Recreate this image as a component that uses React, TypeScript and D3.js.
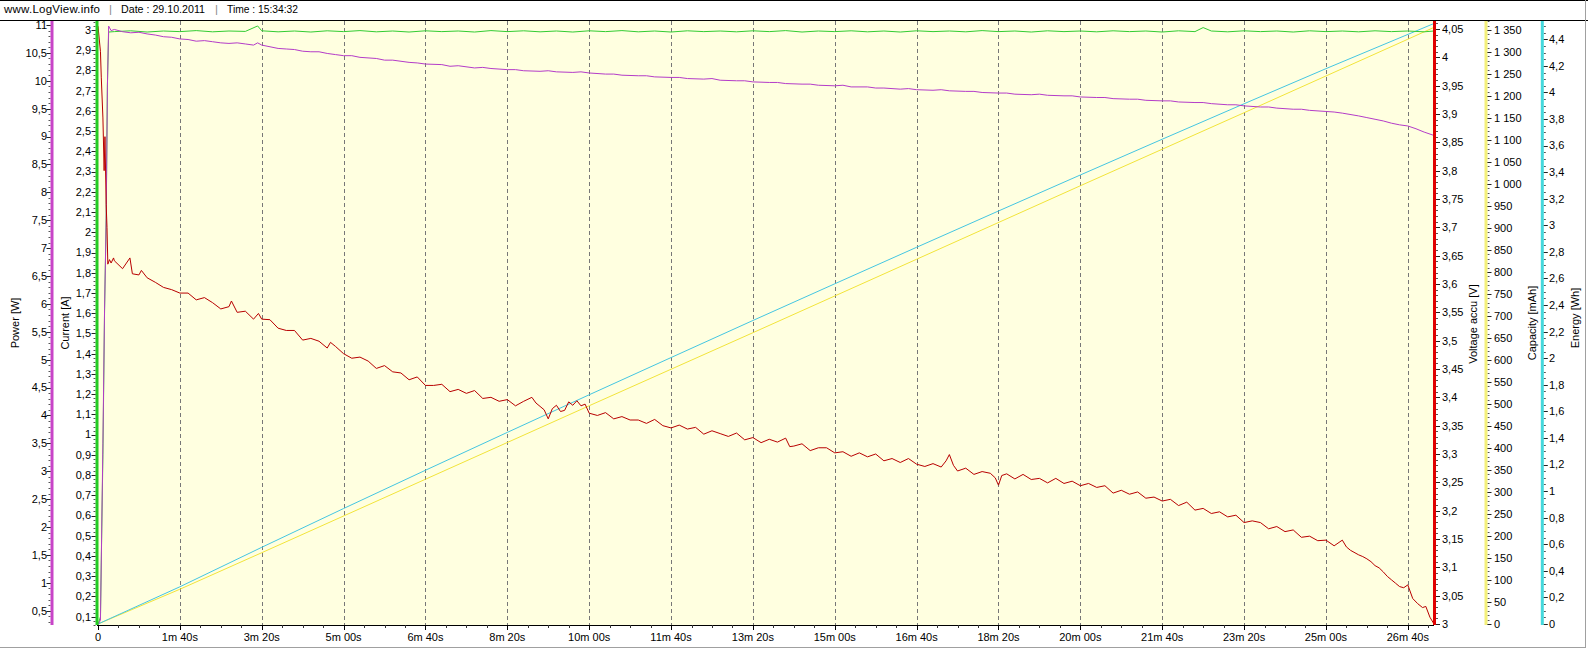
import React from 'react';
import * as d3 from 'd3';

// ---------- data (time in seconds) ----------
const voltageAccu: [number, number][] = [
  [0, 4.055], [3, 4.01], [4, 3.965], [6, 3.893], [7.5, 3.8], [8.5, 3.86], [10, 3.74], [11, 3.7], [12, 3.635], [14, 3.643], [16, 3.637], [19, 3.646],
  [20, 3.641], [30, 3.627], [39, 3.646], [42, 3.618], [50, 3.616], [53, 3.624], [60, 3.611], [70, 3.603], [80, 3.594], [90, 3.59],
  [100, 3.584], [110, 3.584], [120, 3.572], [130, 3.576], [140, 3.567], [150, 3.556], [160, 3.56], [163, 3.57], [170, 3.55], [180, 3.552], [190, 3.538],
  [196, 3.548], [200, 3.538], [210, 3.537], [220, 3.522], [230, 3.518], [240, 3.518], [250, 3.501], [260, 3.504], [270, 3.499], [280, 3.487], [284, 3.497], [290, 3.49],
  [300, 3.477], [310, 3.469], [320, 3.471], [330, 3.464], [340, 3.451], [350, 3.456], [360, 3.445], [370, 3.443], [380, 3.431], [390, 3.436],
  [400, 3.421], [410, 3.421], [420, 3.423], [430, 3.41], [440, 3.414], [450, 3.407], [460, 3.412], [470, 3.398], [480, 3.4], [490, 3.393],
  [500, 3.396], [510, 3.385], [520, 3.393], [530, 3.4], [535, 3.39], [540, 3.384], [545, 3.378], [550, 3.362], [555, 3.38], [560, 3.386], [565, 3.375],
  [570, 3.377], [575, 3.392], [580, 3.386], [585, 3.394], [590, 3.385], [595, 3.388],
  [600, 3.372], [610, 3.368], [620, 3.373], [630, 3.362], [640, 3.366], [650, 3.36], [660, 3.36], [670, 3.354], [680, 3.361], [690, 3.35],
  [700, 3.346], [710, 3.351], [720, 3.344], [730, 3.347], [740, 3.335], [750, 3.341], [760, 3.336], [770, 3.331], [780, 3.337], [790, 3.325],
  [800, 3.329], [810, 3.32], [820, 3.326], [830, 3.321], [840, 3.328], [845, 3.313], [850, 3.314], [860, 3.318], [870, 3.306], [880, 3.311], [890, 3.311],
  [900, 3.302], [910, 3.304], [920, 3.296], [930, 3.302], [940, 3.295], [950, 3.3], [960, 3.288], [970, 3.292], [980, 3.285], [990, 3.292],
  [1000, 3.282], [1010, 3.278], [1020, 3.283], [1030, 3.277], [1036, 3.288], [1040, 3.299], [1045, 3.28], [1050, 3.27], [1060, 3.275], [1070, 3.264],
  [1080, 3.269], [1090, 3.266], [1096, 3.258], [1100, 3.245], [1104, 3.262], [1110, 3.265], [1120, 3.256], [1130, 3.264], [1140, 3.255], [1150, 3.257],
  [1160, 3.249], [1170, 3.257], [1180, 3.248], [1190, 3.252], [1200, 3.244], [1210, 3.248], [1220, 3.241], [1230, 3.244], [1240, 3.231], [1250, 3.236],
  [1260, 3.229], [1270, 3.233], [1280, 3.222], [1290, 3.224], [1300, 3.217], [1310, 3.22], [1320, 3.209], [1330, 3.215], [1340, 3.201], [1350, 3.204],
  [1360, 3.195], [1370, 3.198], [1380, 3.189], [1390, 3.192], [1400, 3.179], [1410, 3.182], [1420, 3.179], [1430, 3.168], [1440, 3.172], [1450, 3.163],
  [1460, 3.166], [1470, 3.153], [1480, 3.155], [1490, 3.147], [1500, 3.148], [1510, 3.138], [1520, 3.148], [1525, 3.136], [1530, 3.13],
  [1540, 3.122], [1545, 3.119], [1550, 3.115], [1555, 3.11], [1560, 3.103], [1565, 3.099], [1570, 3.092], [1575, 3.084], [1580, 3.078], [1585, 3.072],
  [1590, 3.066], [1595, 3.064], [1600, 3.069], [1606, 3.045], [1612, 3.036], [1618, 3.029], [1622, 3.031], [1627, 3.012], [1632, 3.0],
];

const power: [number, number][] = [
  [0, 0.25], [3, 0.33], [6, 3.5], [8, 5.9], [10, 7.5], [11.5, 9.9], [13, 10.98], [16, 10.9],
  [20, 10.92], [30, 10.88], [40, 10.86], [50, 10.87], [60, 10.84], [70, 10.82], [80, 10.79], [90, 10.78], [100, 10.75], [110, 10.74],
  [120, 10.71], [130, 10.72], [140, 10.7], [150, 10.68], [160, 10.67], [170, 10.68], [180, 10.66], [190, 10.64], [195, 10.68], [200, 10.64],
  [220, 10.58], [230, 10.57], [240, 10.56], [250, 10.53], [260, 10.52], [270, 10.52], [280, 10.49], [290, 10.47], [300, 10.45], [310, 10.45],
  [320, 10.42], [340, 10.4], [350, 10.37], [360, 10.37], [380, 10.33], [390, 10.32], [400, 10.3], [420, 10.29], [430, 10.26], [440, 10.27],
  [460, 10.23], [470, 10.24], [480, 10.22], [500, 10.2], [510, 10.2], [520, 10.18], [540, 10.17], [550, 10.18], [560, 10.16], [580, 10.15],
  [590, 10.16], [600, 10.14], [620, 10.12], [630, 10.12], [640, 10.1], [660, 10.09], [670, 10.09], [680, 10.07], [700, 10.06], [710, 10.06],
  [720, 10.04], [740, 10.03], [750, 10.04], [760, 10.01], [780, 10.0], [790, 10.0], [800, 9.98], [820, 9.97], [830, 9.97], [840, 9.95],
  [860, 9.94], [870, 9.94], [880, 9.92], [900, 9.91], [910, 9.92], [920, 9.89], [940, 9.89], [950, 9.87], [960, 9.87], [980, 9.85],
  [990, 9.86], [1000, 9.84], [1020, 9.83], [1030, 9.84], [1040, 9.82], [1060, 9.81], [1070, 9.81], [1080, 9.79], [1100, 9.78], [1110, 9.78],
  [1120, 9.76], [1140, 9.75], [1150, 9.76], [1160, 9.74], [1180, 9.73], [1190, 9.73], [1200, 9.71], [1220, 9.7], [1230, 9.7], [1240, 9.68],
  [1260, 9.67], [1270, 9.67], [1280, 9.65], [1300, 9.64], [1310, 9.64], [1320, 9.62], [1340, 9.61], [1350, 9.61], [1360, 9.59], [1380, 9.57],
  [1390, 9.57], [1400, 9.55], [1420, 9.53], [1430, 9.53], [1440, 9.51], [1460, 9.49], [1470, 9.49], [1480, 9.47], [1500, 9.45], [1510, 9.44],
  [1520, 9.42], [1540, 9.37], [1550, 9.34], [1560, 9.31], [1570, 9.28], [1580, 9.24], [1590, 9.21], [1600, 9.19], [1610, 9.14], [1620, 9.08], [1632, 9.02],
];

const current: [number, number][] = [
  [0, 0.06], [3, 0.1], [6, 0.9], [8, 1.61], [10, 2.07], [11.5, 2.73], [13, 2.99],
  [20, 2.992], [40, 2.996], [60, 2.99], [80, 2.995], [100, 2.992], [120, 2.997], [140, 2.991], [160, 2.995], [180, 2.993], [195, 3.02],
  [200, 2.996], [220, 2.991], [240, 2.995], [260, 2.99], [280, 2.996], [300, 2.992], [320, 2.997], [340, 2.991], [360, 2.995], [380, 2.99],
  [400, 2.996], [420, 2.992], [440, 2.995], [460, 2.99], [480, 2.997], [500, 2.992], [520, 2.996], [540, 2.991], [560, 2.995], [580, 2.99],
  [600, 2.996], [620, 2.992], [640, 2.997], [660, 2.991], [680, 2.995], [700, 2.99], [720, 2.996], [740, 2.992], [760, 2.995], [780, 2.991],
  [800, 2.996], [820, 2.992], [840, 2.997], [860, 2.99], [880, 2.995], [900, 2.992], [920, 2.996], [940, 2.991], [960, 2.995], [980, 2.99],
  [1000, 2.996], [1020, 2.992], [1040, 2.995], [1060, 2.991], [1080, 2.997], [1100, 2.992], [1120, 2.995], [1140, 2.99], [1160, 2.996], [1180, 2.992],
  [1200, 2.995], [1220, 2.991], [1240, 2.996], [1260, 2.992], [1280, 2.995], [1300, 2.99], [1320, 2.996], [1340, 2.992], [1350, 3.012], [1360, 2.995],
  [1380, 2.991], [1400, 2.996], [1420, 2.992], [1440, 2.995], [1460, 2.99], [1480, 2.996], [1500, 2.992], [1520, 2.995], [1540, 2.991], [1560, 2.996],
  [1580, 2.992], [1600, 2.995], [1620, 2.991], [1632, 2.995],
];

const capacity: [number, number][] = [
  [0, 0], [100, 79], [200, 162], [400, 329], [600, 496], [800, 662], [1000, 829], [1200, 996], [1400, 1162], [1600, 1329], [1632, 1356],
];

const energy: [number, number][] = [
  [0, 0], [100, 0.28], [200, 0.577], [300, 0.869], [400, 1.157], [500, 1.442], [600, 1.725], [700, 2.005], [800, 2.284],
  [900, 2.56], [1000, 2.835], [1100, 3.108], [1200, 3.379], [1300, 3.648], [1400, 3.915], [1500, 4.179], [1632, 4.519],
];

// ---------- tick values ----------
const timeTicks = [0, 100, 200, 300, 400, 500, 600, 700, 800, 900, 1000, 1100, 1200, 1300, 1400, 1500, 1600];
const powerTicks = [0.5, 1, 1.5, 2, 2.5, 3, 3.5, 4, 4.5, 5, 5.5, 6, 6.5, 7, 7.5, 8, 8.5, 9, 9.5, 10, 10.5, 11];
const currentTicks = [0.1, 0.2, 0.3, 0.4, 0.5, 0.6, 0.7, 0.8, 0.9, 1, 1.1, 1.2, 1.3, 1.4, 1.5, 1.6, 1.7, 1.8, 1.9, 2, 2.1, 2.2, 2.3, 2.4, 2.5, 2.6, 2.7, 2.8, 2.9, 3];
const voltageTicks = [3, 3.05, 3.1, 3.15, 3.2, 3.25, 3.3, 3.35, 3.4, 3.45, 3.5, 3.55, 3.6, 3.65, 3.7, 3.75, 3.8, 3.85, 3.9, 3.95, 4, 4.05];
const capacityTicks = [0, 50, 100, 150, 200, 250, 300, 350, 400, 450, 500, 550, 600, 650, 700, 750, 800, 850, 900, 950, 1000, 1050, 1100, 1150, 1200, 1250, 1300, 1350];
const energyTicks = [0, 0.2, 0.4, 0.6, 0.8, 1, 1.2, 1.4, 1.6, 1.8, 2, 2.2, 2.4, 2.6, 2.8, 3, 3.2, 3.4, 3.6, 3.8, 4, 4.2, 4.4];

const headerParts = ['www.LogView.info', '|', 'Date : 29.10.2011', '|', 'Time : 15:34:32'];

const W = 1588;
const H = 650;
const PL = 97, PR = 1434, PT = 21, PB = 625;
const FONT = 'Liberation Sans, Arial, sans-serif';

const dec = (v: number) => String(v).replace('.', ',');
const thousands = (v: number) => d3.format(',')(v).replace(/,/g, ' ');
const timeFmt = (s: number) => {
  if (s === 0) return '0';
  const m = Math.floor(s / 60);
  const ss = s % 60;
  return `${m}m ${String(ss).padStart(2, '0')}s`;
};

type Scale = d3.ScaleLinear<number, number>;

function VAxis(props: {
  scale: Scale; x: number; color: string; side: 'left' | 'right'; ticks: number[]; minorStep: number;
  fmt: (v: number) => string; labelX: number; title: string; titleX: number; titleY: number;
}) {
  const { scale, x, color, side, ticks, minorStep, fmt, labelX, title, titleX, titleY } = props;
  const lo = scale.invert(PB);
  const hi = scale.invert(PT);
  const minors: number[] = [];
  const start = Math.ceil(lo / minorStep - 1e-9);
  for (let k = start; k * minorStep <= hi + 1e-9; k++) minors.push(k * minorStep);
  const dir = side === 'left' ? -1 : 1;
  return (
    <g>
      {minors.map((m, i) => (
        <line key={'m' + i} x1={x + dir * 1.5} x2={x + dir * 3.5} y1={Math.round(scale(m)) + 0.5} y2={Math.round(scale(m)) + 0.5} stroke="#555" strokeWidth={1} />
      ))}
      <line x1={x} x2={x} y1={PT} y2={PB} stroke={color} strokeWidth={3} />
      {ticks.map((t, i) => (
        <g key={'t' + i}>
          <line x1={x + dir * 1.5} x2={x + dir * 5.5} y1={Math.round(scale(t)) + 0.5} y2={Math.round(scale(t)) + 0.5} stroke="#222" strokeWidth={1} />
          <text x={labelX} y={scale(t)} dy="0.35em" textAnchor={side === 'left' ? 'end' : 'start'} fontSize={11} fontFamily={FONT} fill="#000">{fmt(t)}</text>
        </g>
      ))}
      <text transform={`translate(${titleX},${titleY}) rotate(-90)`} textAnchor="middle" dy="0.35em" fontSize={11} fontFamily={FONT} fill="#000">{title}</text>
    </g>
  );
}

export default function App() {
  const x = d3.scaleLinear().domain([0, 1632]).range([98, 1434]);
  const yP = d3.scaleLinear().domain([0.5, 11]).range([610.7, 25]);
  const yI = d3.scaleLinear().domain([0.1, 3]).range([616.7, 30]);
  const yV = d3.scaleLinear().domain([3, 4.05]).range([624, 29]);
  const yC = d3.scaleLinear().domain([0, 1350]).range([624, 30]);
  const yE = d3.scaleLinear().domain([0, 4.4]).range([624, 39.3]);

  const mk = (ys: Scale) => d3.line<[number, number]>().x(d => x(d[0])).y(d => ys(d[1]));

  const minorX = d3.range(0, 1632, 25);

  return (
    <svg width={W} height={H} style={{ position: 'absolute', left: 0, top: 0, background: '#fff' }} xmlns="http://www.w3.org/2000/svg">
      <rect x={0} y={0} width={W} height={H} fill="#fff" />
      <defs>
        <clipPath id="plotClip">
          <rect x={PL} y={PT} width={PR - PL} height={PB - PT} />
        </clipPath>
      </defs>
      {/* frame */}
      <line x1={0} x2={W} y1={0.5} y2={0.5} stroke="#000" />
      <line x1={0} x2={W} y1={20.5} y2={20.5} stroke="#000" />
      <line x1={W - 2.5} x2={W - 2.5} y1={0} y2={H - 2} stroke="#a0a0a0" />
      <line x1={0} x2={W - 2} y1={H - 2.5} y2={H - 2.5} stroke="#a0a0a0" />

      {/* header */}
      <g fontSize={11.5} fontFamily={FONT} fill="#000">
        <text x={4} y={13} textLength={96} lengthAdjust="spacing">{headerParts[0]}</text>
        <text x={109} y={13} fill="#888">{headerParts[1]}</text>
        <text x={121} y={13} textLength={84} lengthAdjust="spacingAndGlyphs">{headerParts[2]}</text>
        <text x={215} y={13} fill="#888">{headerParts[3]}</text>
        <text x={227} y={13} textLength={71} lengthAdjust="spacingAndGlyphs">{headerParts[4]}</text>
      </g>

      {/* plot background */}
      <rect x={PL} y={PT} width={PR - PL} height={PB - PT} fill="#ffffe0" />

      {/* grid */}
      {timeTicks.filter(t => t > 0).map((t, i) => (
        <line key={'g' + i} x1={Math.round(x(t)) + 0.5} x2={Math.round(x(t)) + 0.5} y1={PT} y2={PB} stroke="#777" strokeDasharray="4,3" strokeWidth={1} />
      ))}

      {/* data */}
      <g clipPath="url(#plotClip)" fill="none" strokeWidth={1}>
        <path d={mk(yC)(capacity) || ''} stroke="#f2e43a" />
        <path d={mk(yE)(energy) || ''} stroke="#44c6e2" />
        <path d={mk(yI)(current) || ''} stroke="#33cc33" />
        <path d={mk(yP)(power) || ''} stroke="#b43cc8" />
        <path d={mk(yV)(voltageAccu) || ''} stroke="#b80000" />
      </g>

      {/* x axis */}
      <line x1={PL} x2={PR} y1={PB + 0.5} y2={PB + 0.5} stroke="#000" />
      {minorX.map((t, i) => (
        <line key={'xm' + i} x1={Math.round(x(t)) + 0.5} x2={Math.round(x(t)) + 0.5} y1={PB} y2={PB + 3} stroke="#333" />
      ))}
      {timeTicks.map((t, i) => (
        <g key={'xt' + i}>
          <line x1={Math.round(x(t)) + 0.5} x2={Math.round(x(t)) + 0.5} y1={PB} y2={PB + 5} stroke="#000" />
          <text x={x(t)} y={641} textAnchor="middle" fontSize={11} fontFamily={FONT} fill="#000">{timeFmt(t)}</text>
        </g>
      ))}

      {/* y axes */}
      <VAxis scale={yP} x={52} color="#c844c8" side="left" ticks={powerTicks} minorStep={0.1} fmt={dec} labelX={47} title="Power [W]" titleX={15.5} titleY={323} />
      <VAxis scale={yI} x={97} color="#22cc22" side="left" ticks={currentTicks} minorStep={0.02} fmt={dec} labelX={91} title="Current [A]" titleX={65} titleY={323} />
      <VAxis scale={yV} x={1434.5} color="#e00000" side="right" ticks={voltageTicks} minorStep={0.01} fmt={dec} labelX={1442} title="Voltage accu [V]" titleX={1473} titleY={324} />
      <VAxis scale={yC} x={1486} color="#f4f07a" side="right" ticks={capacityTicks} minorStep={10} fmt={thousands} labelX={1494} title="Capacity [mAh]" titleX={1532} titleY={323} />
      <VAxis scale={yE} x={1542.3} color="#44d8dc" side="right" ticks={energyTicks} minorStep={0.05} fmt={dec} labelX={1549} title="Energy [Wh]" titleX={1575} titleY={318} />
    </svg>
  );
}
